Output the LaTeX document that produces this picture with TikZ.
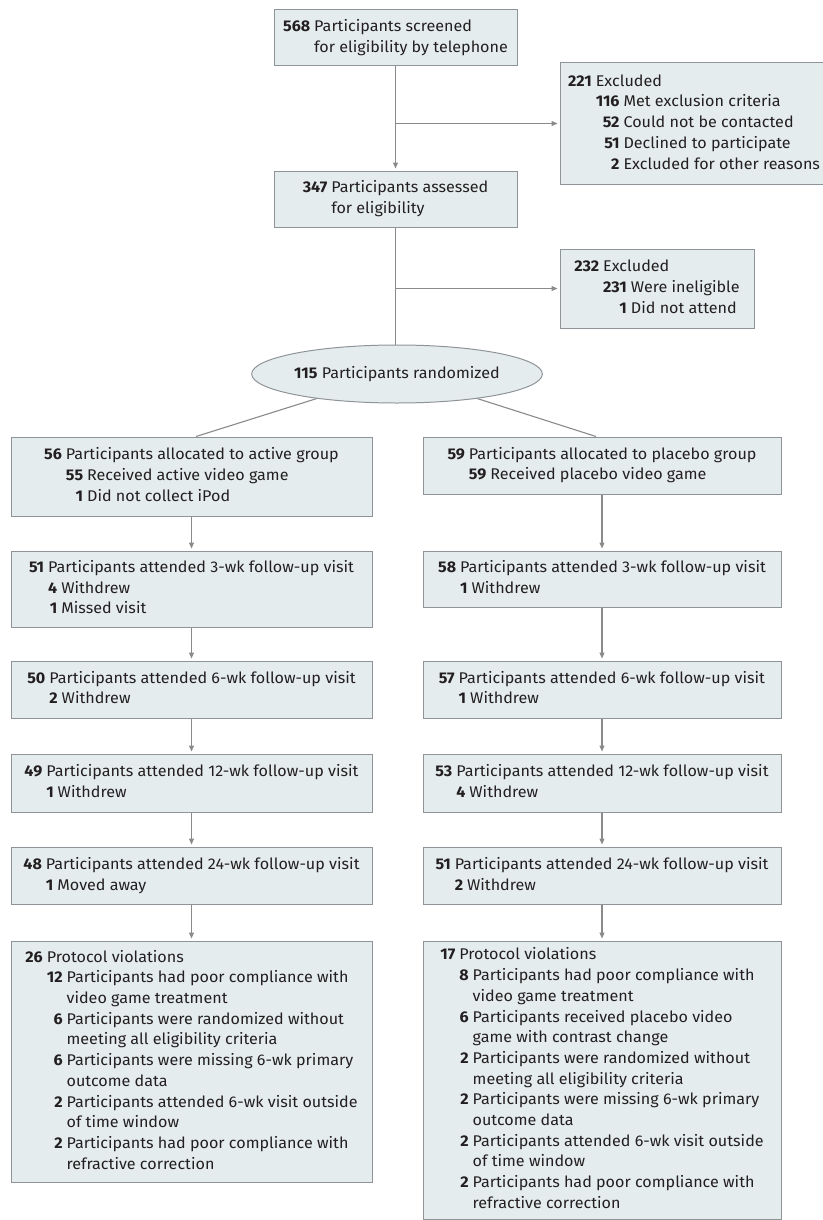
\documentclass[tikz,border=0pt]{standalone}
\usepackage{fontspec}
\setmainfont{Fira Sans}[FakeStretch=1.04]
\usetikzlibrary{arrows.meta,shapes.geometric,calc}
\definecolor{boxfill}{HTML}{E5ECEE}
\definecolor{boxline}{HTML}{8F9498}
\definecolor{conn}{HTML}{8A8A8A}
\definecolor{txt}{HTML}{231F20}
\newcommand{\leadrow}[2]{\textbf{#1} & \multicolumn{2}{@{}l@{}}{#2}\\}
\newcommand{\lcontrow}[1]{& \multicolumn{2}{@{}l@{}}{#1}\\}
\newcommand{\subrow}[2]{& \textbf{#1} & #2\\}
\newcommand{\controw}[1]{& & #1\\}
\newenvironment{boxtab}{\begin{tabular}{@{}r@{\hspace{4pt}}r@{\hspace{4pt}}l@{}}}{\end{tabular}}
\begin{document}
\begin{tikzpicture}[x=1pt,y=-1pt,
  box/.style={draw=boxline,fill=boxfill,line width=1pt,rectangle,inner sep=0pt,
    text=txt,font=\fontsize{15.5}{20.7}\selectfont,align=left},
  ell/.style={draw=boxline,fill=boxfill,line width=1pt,ellipse,inner sep=0pt,
    text=txt,font=\fontsize{15.5}{20.7}\selectfont},
  conline/.style={draw=conn,line width=1.1pt},
  arr/.style={conline,-{Triangle[length=6pt,width=5pt]},shorten >=2pt}]
\useasboundingbox[fill=white] (0,0) rectangle (822,1220);

\node[box,minimum width=243pt,minimum height=56pt] (top) at (395.5,38)
  {\begin{boxtab}\leadrow{568}{Participants screened}\lcontrow{for eligibility by telephone}\end{boxtab}};
\node[box,minimum width=268pt,minimum height=121pt] (ex1) at (694,123.5)
  {\begin{boxtab}\leadrow{221}{Excluded}\subrow{116}{Met exclusion criteria}\subrow{52}{Could not be contacted}\subrow{51}{Declined to participate}\subrow{2}{Excluded for other reasons}\end{boxtab}};
\node[box,minimum width=243pt,minimum height=56pt] (assess) at (395.5,199)
  {\begin{boxtab}\leadrow{347}{Participants assessed}\lcontrow{for eligibility}\end{boxtab}};
\node[box,minimum width=194pt,minimum height=79pt] (ex2) at (657,288.5)
  {\begin{boxtab}\leadrow{232}{Excluded}\subrow{231}{Were ineligible}\subrow{1}{Did not attend}\end{boxtab}};
\node[ell,minimum width=248pt,minimum height=58pt] (rand) at (397,374)
  {\textbf{115} Participants randomized};

\node[box,minimum width=361pt,minimum height=79pt] (allocA) at (191.5,476.5)
  {\begin{boxtab}\leadrow{56}{Participants allocated to active group}\subrow{55}{Received active video game}\subrow{1}{Did not collect iPod}\end{boxtab}};
\node[box,minimum width=358pt,minimum height=57pt] (allocP) at (602,465.5)
  {\begin{boxtab}\leadrow{59}{Participants allocated to placebo group}\subrow{59}{Received placebo video game}\end{boxtab}};

\node[box,minimum width=361pt,minimum height=76pt] (w3A) at (191.5,589)
  {\begin{boxtab}\leadrow{51}{Participants attended 3-wk follow-up visit}\subrow{4}{Withdrew}\subrow{1}{Missed visit}\end{boxtab}};
\node[box,minimum width=358pt,minimum height=56pt] (w3P) at (602,579)
  {\begin{boxtab}\leadrow{58}{Participants attended 3-wk follow-up visit}\subrow{1}{Withdrew}\end{boxtab}};

\node[box,minimum width=361pt,minimum height=57pt] (w6A) at (191.5,689.5)
  {\begin{boxtab}\leadrow{50}{Participants attended 6-wk follow-up visit}\subrow{2}{Withdrew}\end{boxtab}};
\node[box,minimum width=358pt,minimum height=57pt] (w6P) at (602,689.5)
  {\begin{boxtab}\leadrow{57}{Participants attended 6-wk follow-up visit}\subrow{1}{Withdrew}\end{boxtab}};

\node[box,minimum width=361pt,minimum height=58pt] (w12A) at (191.5,783)
  {\begin{boxtab}\leadrow{49}{Participants attended 12-wk follow-up visit}\subrow{1}{Withdrew}\end{boxtab}};
\node[box,minimum width=358pt,minimum height=58pt] (w12P) at (602,783)
  {\begin{boxtab}\leadrow{53}{Participants attended 12-wk follow-up visit}\subrow{4}{Withdrew}\end{boxtab}};

\node[box,minimum width=361pt,minimum height=57pt] (w24A) at (191.5,875.5)
  {\begin{boxtab}\leadrow{48}{Participants attended 24-wk follow-up visit}\subrow{1}{Moved away}\end{boxtab}};
\node[box,minimum width=358pt,minimum height=57pt] (w24P) at (602,875.5)
  {\begin{boxtab}\leadrow{51}{Participants attended 24-wk follow-up visit}\subrow{2}{Withdrew}\end{boxtab}};

\node[box,minimum width=361pt,minimum height=241pt] (protA) at (191.5,1061.5)
  {\begin{boxtab}\leadrow{26}{Protocol violations}
  \subrow{12}{Participants had poor compliance with}\controw{video game treatment}
  \subrow{6}{Participants were randomized without}\controw{meeting all eligibility criteria}
  \subrow{6}{Participants were missing 6-wk primary}\controw{outcome data}
  \subrow{2}{Participants attended 6-wk visit outside}\controw{of time window}
  \subrow{2}{Participants had poor compliance with}\controw{refractive correction}\end{boxtab}};
\node[box,minimum width=358pt,minimum height=278pt] (protP) at (602,1080)
  {\begin{boxtab}\leadrow{17}{Protocol violations}
  \subrow{8}{Participants had poor compliance with}\controw{video game treatment}
  \subrow{6}{Participants received placebo video}\controw{game with contrast change}
  \subrow{2}{Participants were randomized without}\controw{meeting all eligibility criteria}
  \subrow{2}{Participants were missing 6-wk primary}\controw{outcome data}
  \subrow{2}{Participants attended 6-wk visit outside}\controw{of time window}
  \subrow{2}{Participants had poor compliance with}\controw{refractive correction}\end{boxtab}};

% connectors
\coordinate (j1) at (top.south |- ex1.west);
\coordinate (j2) at (assess.south |- ex2.west);
\draw[arr] (top.south) -- (assess.north);
\draw[arr] (j1) -- (ex1.west);
\draw[conline] (assess.south) -- (assess.south |- rand.north);
\draw[arr] (j2) -- (ex2.west);
\draw[conline] (rand.197) -- ($(allocA.north)+(4.5,0)$);
\draw[conline] (rand.343) -- ($(allocP.north)+(-6,0)$);
\draw[arr] (allocA.south) -- (w3A.north);
\draw[arr] (allocP.south) -- (w3P.north);
\draw[arr] (w3A.south) -- (w6A.north);
\draw[arr] (w3P.south) -- (w6P.north);
\draw[arr] (w6A.south) -- (w12A.north);
\draw[arr] (w6P.south) -- (w12P.north);
\draw[arr] (w12A.south) -- (w24A.north);
\draw[arr] (w12P.south) -- (w24P.north);
\draw[arr] (w24A.south) -- (protA.north);
\draw[arr] (w24P.south) -- (protP.north);
\end{tikzpicture}
\end{document}
